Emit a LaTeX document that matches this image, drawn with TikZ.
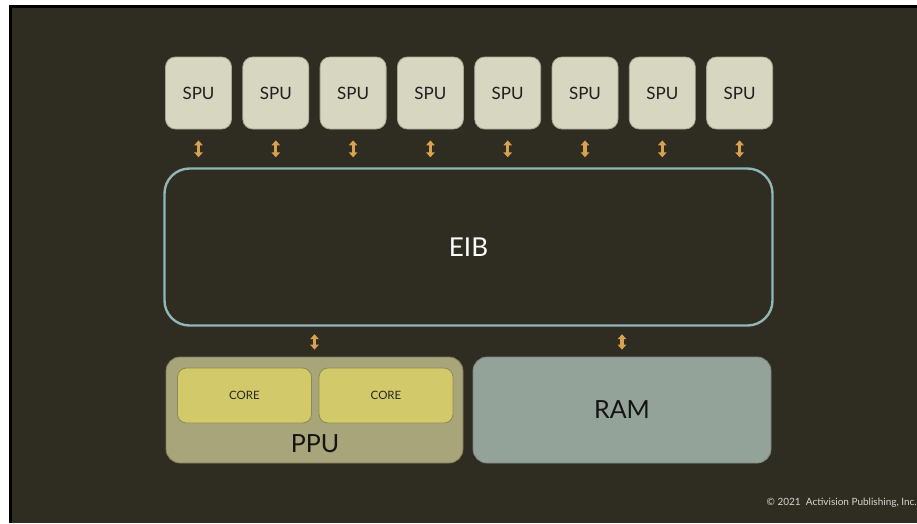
\documentclass[tikz,border=0pt]{standalone}
\usepackage{fontspec}
\setmainfont{Lato}
\usetikzlibrary{arrows.meta}
\definecolor{bgdark}{HTML}{2F2C21}
\definecolor{spufill}{HTML}{D7D6C0}
\definecolor{spuline}{HTML}{A9A793}
\definecolor{eibline}{HTML}{90B6B7}
\definecolor{arrowc}{HTML}{D9A24F}
\definecolor{ppufill}{HTML}{A9A57B}
\definecolor{ppuline}{HTML}{7E7B5B}
\definecolor{corefill}{HTML}{D2CA6A}
\definecolor{coreline}{HTML}{8F8950}
\definecolor{ramfill}{HTML}{94A39A}
\definecolor{ramline}{HTML}{7A857E}
\definecolor{copyc}{HTML}{D6D6D6}
\tikzset{
  spubox/.style={draw=spuline, line width=0.8pt, fill=spufill, rounded corners=10pt,
    minimum width=66pt, minimum height=72pt, inner sep=0pt, text=black!88,
    font=\fontsize{17}{20}\selectfont},
  eibbox/.style={draw=eibline, line width=2.4pt, rounded corners=25pt,
    minimum width=608pt, minimum height=157pt, inner sep=0pt, text=white,
    font=\fontsize{26}{30}\selectfont},
  ppubox/.style={draw=ppuline, line width=0.8pt, fill=ppufill, rounded corners=14pt,
    minimum width=297pt, minimum height=106pt, inner sep=0pt},
  corebox/.style={draw=coreline, line width=0.8pt, fill=corefill, rounded corners=9pt,
    minimum width=134pt, minimum height=55pt, inner sep=0pt, text=black!85,
    font=\fontsize{11.5}{14}\selectfont},
  rambox/.style={draw=ramline, line width=0.8pt, fill=ramfill, rounded corners=14pt,
    minimum width=298pt, minimum height=106pt, inner sep=0pt, text=black!92,
    font=\fontsize{25}{30}\selectfont},
  biarrow/.style={draw=arrowc, line width=3.2pt,
    {Triangle[width=8.5pt,length=5pt]}-{Triangle[width=8.5pt,length=5pt]}},
  bigtext/.style={text=black!92, font=\fontsize{25}{30}\selectfont, inner sep=0pt},
  copytext/.style={text=copyc, font=\fontsize{10}{12}\selectfont, inner sep=0pt}
}
\begin{document}
\begin{tikzpicture}[x=1pt,y=-1pt]
\useasboundingbox (0,0) rectangle (917,523);
\fill[white] (0,0) rectangle (917,523);
\fill[black] (9,5) rectangle (917,523);
\fill[bgdark] (12,8) rectangle (917,523);

\foreach \i in {0,...,7} {
  \node[spubox] (spu\i) at ({198.5+77.3*\i},93) {SPU};
}
\node[eibbox] (eib) at (468.5,247) {EIB};

\node[ppubox] (ppu) at (314.5,410) {};
\node[corebox] (core1) at (244.5,395.5) {CORE};
\node[corebox] (core2) at (386,395.5) {CORE};
\node[bigtext, anchor=base] (ppulbl) at (315,452) {PPU};

\node[rambox] (ram) at (622,410) {RAM};

\foreach \i in {0,...,7} {
  \draw[biarrow, shorten <=11pt, shorten >=10pt] (spu\i.south) -- (eib.north -| spu\i.south);
}
\draw[biarrow, shorten <=7.5pt, shorten >=7pt] (eib.south -| ppu.north) -- (ppu.north);
\draw[biarrow, shorten <=7.5pt, shorten >=7pt] (eib.south -| ram.north) -- (ram.north);

\node[copytext, anchor=base east] (copy) at (917,505) {\symbol{"00A9} 2021\ \ Activision Publishing, Inc.};
\end{tikzpicture}
\end{document}
